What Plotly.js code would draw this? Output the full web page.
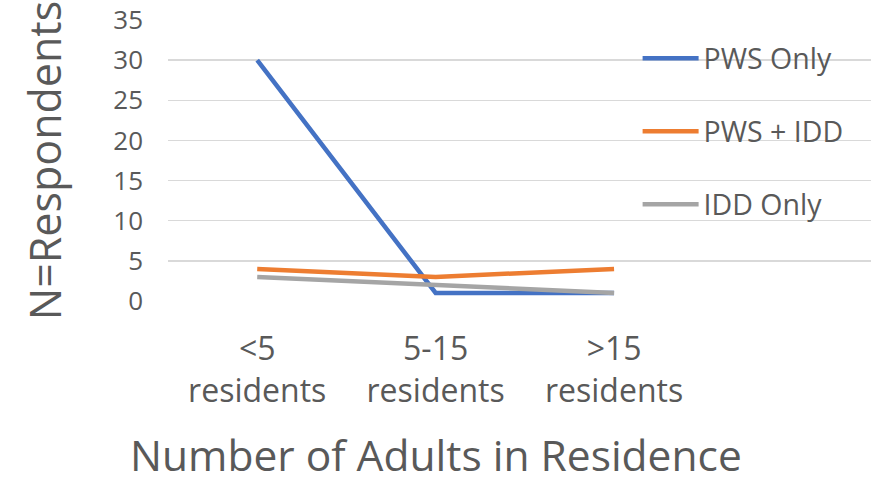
<!DOCTYPE html>
<html>
<head>
<meta charset="utf-8">
<script src="https://cdn.plot.ly/plotly-3.0.1.min.js"></script>
<style>html,body{margin:0;padding:0;background:#fff;}#chart{width:871px;height:488px;}</style>
</head>
<body>
<div id="chart"></div>
<script>
const categories = ["<5<br>residents", "5-15<br>residents", ">15<br>residents"];
const pwsOnly = [30, 1, 1];
const pwsIdd = [4, 3, 4];
const iddOnly = [3, 2, 1];
const yTicks = [0, 5, 10, 15, 20, 25, 30, 35];

const FONT = '"Open Sans", "Noto Sans", sans-serif';
const TXT = '#595959';

function tr(name, y, color, g) {
  return {
    type: 'scatter', mode: 'lines', name: name, x: categories, y: y,
    legendgroup: g,
    line: {color: color, width: 4.5, shape: 'linear'},
    hoverinfo: 'skip'
  };
}

const data = [
  tr('PWS Only', pwsOnly, '#4472C4', 'a'),
  tr('PWS + IDD', pwsIdd, '#ED7D31', 'b'),
  tr('IDD Only', iddOnly, '#A5A5A5', 'c')
];

const layout = {
  width: 871, height: 488,
  margin: {l: 168, r: 0, t: 20, b: 187},
  paper_bgcolor: '#ffffff', plot_bgcolor: '#ffffff',
  font: {family: FONT, color: TXT, size: 26},
  showlegend: true,
  legend: {
    x: 0.668, y: 0.953, xanchor: 'left', yanchor: 'top',
    font: {family: FONT, size: 28.5, color: TXT},
    bgcolor: 'rgba(0,0,0,0)', borderwidth: 0,
    tracegroupgap: 33, itemwidth: 56, traceorder: 'grouped'
  },
  xaxis: {
    type: 'category',
    range: [-0.5, 3.44],
    showgrid: false, zeroline: false, showline: false,
    ticks: '', ticklabelstandoff: 26,
    tickfont: {family: FONT, size: 32, color: TXT},
    fixedrange: true
  },
  yaxis: {
    range: [0, 35],
    tickvals: yTicks,
    showgrid: true, gridcolor: '#D9D9D9', gridwidth: 1.5,
    zeroline: false, showline: false,
    ticks: '', ticklabelstandoff: 24,
    tickfont: {family: FONT, size: 26, color: TXT},
    title: {text: 'N=Respondents', font: {family: FONT, size: 43, color: TXT}, standoff: 38},
    fixedrange: true
  },
  annotations: [{
    text: 'Number of Adults in Residence',
    xref: 'x', yref: 'paper', x: 1, y: -0.65,
    xanchor: 'center', yanchor: 'bottom', showarrow: false, borderpad: 0,
    font: {family: FONT, size: 42.5, color: TXT}
  }]
};

Plotly.newPlot('chart', data, layout, {staticPlot: true, displayModeBar: false});
</script>
</body>
</html>
